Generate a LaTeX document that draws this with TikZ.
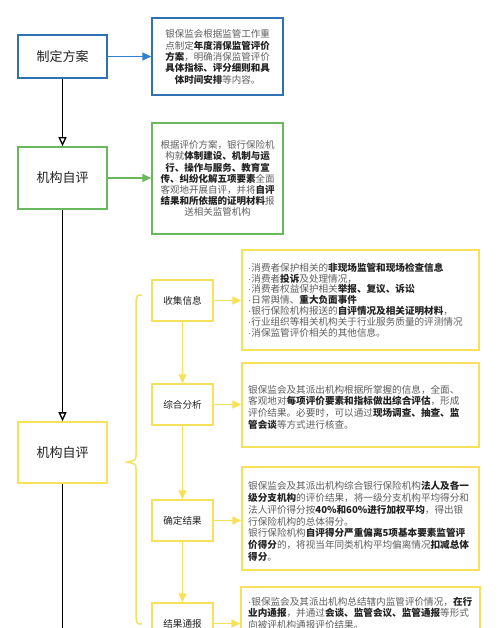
\documentclass[tikz,border=0pt]{standalone}
\usepackage{fontspec}
\setmainfont{Noto Sans CJK SC}
\newfontfamily\dotfont{Liberation Sans}
\usetikzlibrary{arrows.meta}
\definecolor{bblue}{HTML}{2E72B4}
\definecolor{barrow}{HTML}{2F80D0}
\definecolor{ggreen}{HTML}{6AB85C}
\definecolor{yyel}{HTML}{F5E25A}
\definecolor{txt}{HTML}{5E5E5E}
\definecolor{btxt}{HTML}{222222}
\newcommand{\hb}[1]{{\bfseries\color{btxt}#1}}
\newcommand{\md}{{\dotfont ·}}
\begin{document}
\begin{tikzpicture}[x=1pt,y=-1pt,
  bigbox/.style={draw, line width=1.6pt, fill=white, inner sep=0pt, minimum width=89pt,
     font=\fontsize{13}{15}\selectfont, text=btxt},
  smallbox/.style={draw=yyel, line width=1.5pt, fill=white, inner sep=0pt, minimum width=61pt,
     minimum height=41pt, font=\fontsize{9.6}{11}\selectfont, text=btxt},
  rbox/.style={draw, line width=1.5pt, fill=white, inner sep=0pt},
  ctext/.style={align=center, text=txt, inner sep=0pt},
  ltext/.style={align=left, text=txt, inner sep=0pt, anchor=west},
  blackarr/.style={line width=1.3pt, black, -{Triangle[open,length=9pt,width=8pt]}},
  colarr/.style={line width=1.5pt, -{Triangle[length=9pt,width=8pt]}}
]
\useasboundingbox (0,0) rectangle (500,628);
\clip (0,0) rectangle (500,628);
\fill[white] (0,0) rectangle (500,628);

% left main boxes
\node[bigbox, draw=bblue, minimum height=43pt] (plan) at (62.5,56.5) {制定方案};
\node[bigbox, draw=ggreen, minimum height=62pt] (self) at (62.5,178) {机构自评};
\node[bigbox, draw=yyel, minimum height=61pt] (eval) at (62.5,452.5) {机构自评};
\coordinate (evalend) at (62.5,640);

% right boxes (blue / green)
\node[rbox, draw=bblue, minimum width=131pt, minimum height=77pt] (pbox) at (217.5,56.5) {};
\node[ctext, font=\fontsize{9.5}{11.3}\selectfont] (ptext) at (217.5,57) {银保监会根据监管工作重\\点制定\hb{年度消保监管评价}\\\hb{方案}，明确消保监管评价\\\hb{具体指标、评分细则和具}\\\hb{体时间安排}等内容。};

\node[rbox, draw=ggreen, minimum width=131pt, minimum height=111pt] (sbox) at (217.5,178.5) {};
\node[ctext, font=\fontsize{9.5}{11.1}\selectfont] (stext) at (217.5,178.5) {根据评价方案，银行保险机\\构就\hb{体制建设、机制与运}\\\hb{行、操作与服务、教育宣}\\\hb{传、纠纷化解五项要素}全面\\客观地开展自评，并将\hb{自评}\\\hb{结果和所依据的证明材料}报\\送相关监管机构};

% small yellow boxes
\node[smallbox] (collect) at (182.5,300.5) {收集信息};
\node[smallbox] (analysis) at (182.5,404.5) {综合分析};
\node[smallbox] (result) at (182.5,520.5) {确定结果};
\node[smallbox] (report) at (182.5,623.5) {结果通报};

% right yellow boxes
\node[rbox, draw=yyel, minimum width=237pt, minimum height=100pt] (cbox) at (360.5,300) {};
\node[ltext, font=\fontsize{9.6}{10.8}\selectfont] (ctxt) at (248,300) {\md 消费者保护相关的\hb{非现场监管和现场检查信息}\\\md 消费者\hb{投诉}及处理情况，\\\md 消费者权益保护相关\hb{举报、复议、诉讼}\\\md 日常舆情、\hb{重大负面事件}\\\md 银行保险机构报送的\hb{自评情况及相关证明材料}，\\\md 行业组织等相关机构关于行业服务质量的评测情况\\\md 消保监管评价相关的其他信息。};

\node[rbox, draw=yyel, minimum width=237pt, minimum height=84pt] (abox) at (360.5,405) {};
\node[ltext, font=\fontsize{9.6}{11.7}\selectfont] (atxt) at (248,407) {银保监会及其派出机构根据所掌握的信息，全面、\\客观地对\hb{每项评价要素和指标做出综合评估}，形成\\评价结果。必要时，可以通过\hb{现场调查、抽查、监}\\\hb{管会谈}等方式进行核查。};

\node[rbox, draw=yyel, minimum width=237pt, minimum height=103pt] (rbox) at (360.5,518.5) {};
\node[ltext, font=\fontsize{9.6}{11.8}\selectfont] (rtxt) at (248,521.5) {银保监会及其派出机构综合银行保险机构\hb{法人及各一}\\\hb{级分支机构}的评价结果，将一级分支机构平均得分和\\法人评价得分按\hb{40\%和60\%进行加权平均}，得出银\\行保险机构的总体得分。\\银行保险机构\hb{自评得分严重偏离5项基本要素监管评}\\\hb{价得分}的，将视当年同类机构平均偏离情况\hb{扣减总体}\\\hb{得分}。};

\node[rbox, draw=yyel, minimum width=239pt, minimum height=74pt] (tbox) at (360.5,624) {};
\node[ltext, font=\fontsize{9.6}{11.5}\selectfont, anchor=north west] (ttxt) at (248,597) {\md 银保监会及其派出机构总结辖内监管评价情况，\hb{在行}\\\hb{业内通报}，并通过\hb{会谈、监管会议、监管通报}等形式\\向被评机构通报评价结果。};

% connectors
\draw[colarr, barrow] (plan.east) -- (pbox.west);
\draw[colarr, ggreen] (self.east) -- (sbox.west |- self.east);
\draw[blackarr] (plan.south) -- (self.north);
\draw[blackarr] (self.south) -- (eval.north);
\draw[line width=1.3pt, black] (eval.south) -- (evalend);

\draw[colarr, yyel] (collect.east) -- (cbox.west |- collect.east);
\draw[colarr, yyel] (analysis.east) -- (abox.west |- analysis.east);
\draw[colarr, yyel] (result.east) -- (rbox.west |- result.east);
\draw[colarr, yyel] (report.east) -- (tbox.west |- report.east);
\draw[colarr, yyel] (collect.south) -- (analysis.north);
\draw[colarr, yyel] (analysis.south) -- (result.north);
\draw[colarr, yyel] (result.south) -- (report.north);

% brace
\draw[yyel, line width=1.5pt] (142,295) .. controls (137,295) .. (136,301)
  -- (136,455) .. controls (136,460) .. (127,462)
  .. controls (136,464) .. (136,469)
  -- (136,618) .. controls (137,624) .. (142,624);
\end{tikzpicture}
\end{document}
